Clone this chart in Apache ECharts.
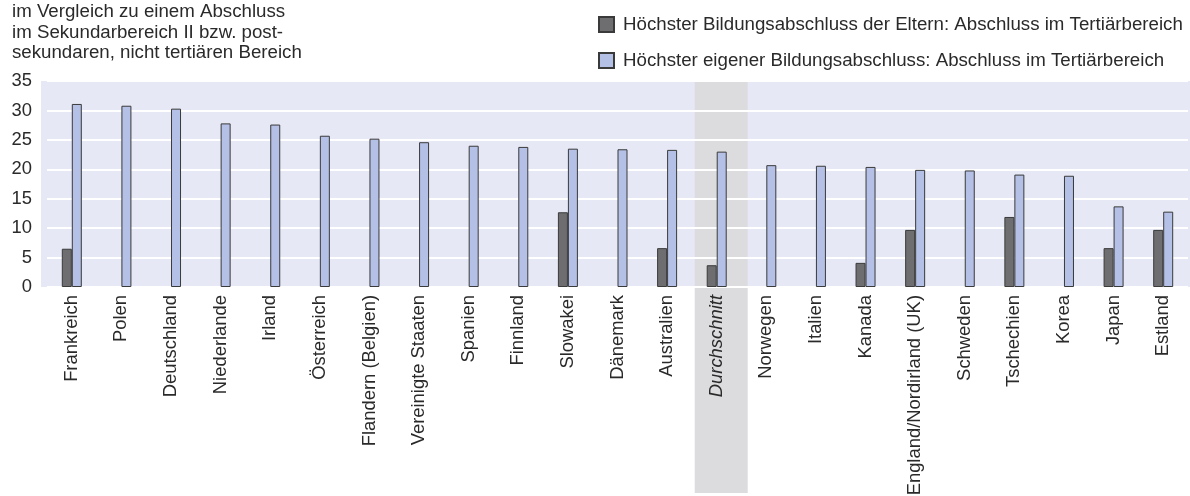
<!doctype html>
<html>
<head>
<meta charset="utf-8">
<title>Bildungsabschluss</title>
<script src="https://cdn.jsdelivr.net/npm/echarts@6/dist/echarts.min.js"></script>
<style>html,body,#app{margin:0;width:1190px;height:496px;background:#fff}</style>
</head>
<body>
<div id="app"></div>
<script>
// Länder (Kategorien)
const countries = [
  "Frankreich", "Polen", "Deutschland", "Niederlande", "Irland", "Österreich",
  "Flandern (Belgien)", "Vereinigte Staaten", "Spanien", "Finnland", "Slowakei",
  "Dänemark", "Australien", "Durchschnitt", "Norwegen", "Italien", "Kanada",
  "England/Nordirland (UK)", "Schweden", "Tschechien", "Korea", "Japan", "Estland"
];
// Höchster Bildungsabschluss der Eltern (nur wo signifikant)
const parentVals = [
  6.5, null, null, null, null, null, null, null, null, null, 12.7,
  null, 6.6, 3.7, null, null, 4.1, 9.7, null, 11.9, null, 6.6, 9.7
];
// Höchster eigener Bildungsabschluss
const ownVals = [
  31.1, 30.8, 30.3, 27.8, 27.6, 25.7, 25.2, 24.6, 24.0, 23.8, 23.5,
  23.4, 23.3, 23.0, 20.7, 20.6, 20.4, 19.9, 19.8, 19.1, 18.9, 13.7, 12.8
];
const seriesNames = [
  "Höchster Bildungsabschluss der Eltern: Abschluss im Tertiärbereich",
  "Höchster eigener Bildungsabschluss: Abschluss im Tertiärbereich"
];
const yTicks = { min: 0, max: 35, interval: 5 };

const FONT = "Liberation Sans";
const FS = 18.7; // Schriftgröße
const TXT = "#2a2a2a";
const GRID = { left: 47, right: 2, top: 81, bottom: 209, outerBoundsMode: "none" };

const el = document.getElementById("app");
const chart = echarts.init(el, null, { renderer: "canvas" });

const barStyle = (color) => ({ color: color, borderColor: "#3a3a3a", borderWidth: 1 });

chart.setOption({
  animation: false,
  textStyle: { fontFamily: FONT, color: TXT },
  title: {
    text: "im Vergleich zu einem Abschluss\nim Sekundarbereich II bzw. post-\nsekundaren, nicht tertiären Bereich",
    left: 12, top: 2, padding: 0,
    textStyle: { fontFamily: FONT, fontSize: FS, fontWeight: "normal", color: TXT, lineHeight: 20.5 }
  },
  legend: {
    orient: "vertical", left: 598, top: 15, padding: 0,
    itemWidth: 15, itemHeight: 15, itemGap: 17, icon: "rect",
    textStyle: { fontFamily: FONT, fontSize: FS, color: TXT, lineHeight: 15, padding: [0, 0, 0, 4] },
    data: seriesNames
  },
  grid: GRID,
  xAxis: {
    type: "category",
    data: countries,
    axisLine: { show: false },
    axisTick: { show: false },
    axisLabel: {
      rotate: 90, margin: 8, interval: 0, fontSize: 18.4, color: TXT, fontFamily: FONT,
      formatter: (v) => (v === "Durchschnitt" ? "{i|" + v + "}" : v),
      rich: { i: { fontStyle: "italic", fontSize: 18.4, color: TXT, fontFamily: FONT } }
    }
  },
  yAxis: {
    type: "value",
    min: yTicks.min, max: yTicks.max, interval: yTicks.interval,
    axisLine: { show: false },
    axisTick: { show: false },
    axisLabel: { margin: 15, fontSize: 18.4, color: TXT, fontFamily: FONT },
    splitLine: { lineStyle: { color: "#ffffff", width: 2 } }
  },
  series: [
    { name: seriesNames[0], type: "bar", data: parentVals, barWidth: 10, barGap: "0%", itemStyle: barStyle("#6e6e70") },
    { name: seriesNames[1], type: "bar", data: ownVals, barWidth: 10, barGap: "0%", itemStyle: barStyle("#b4c0e6") }
  ]
});

// Hintergrund und Hervorhebung "Durchschnitt" aus den Achsen berechnet
const yTop = chart.convertToPixel({ yAxisIndex: 0 }, yTicks.max);
const yBottom = chart.convertToPixel({ yAxisIndex: 0 }, yTicks.min);
const xFirst = chart.convertToPixel({ xAxisIndex: 0 }, countries[0]);
const xLast = chart.convertToPixel({ xAxisIndex: 0 }, countries[countries.length - 1]);
const band = (xLast - xFirst) / (countries.length - 1);
const xAvg = chart.convertToPixel({ xAxisIndex: 0 }, "Durchschnitt");
const bgLeft = xFirst - band / 2 - 6;
const bgRight = xLast + band / 2 + 2;
chart.setOption({
  graphic: [
    { type: "rect", z: -20, silent: true, shape: { x: bgLeft, y: yTop, width: bgRight - bgLeft, height: yBottom - yTop }, style: { fill: "#e6e8f5" } },
    { type: "rect", z: -19, silent: true, shape: { x: xAvg - 22, y: yTop, width: 53, height: 493 - yTop }, style: { fill: "#dcdcde" } }
  ]
});
</script>
</body>
</html>
